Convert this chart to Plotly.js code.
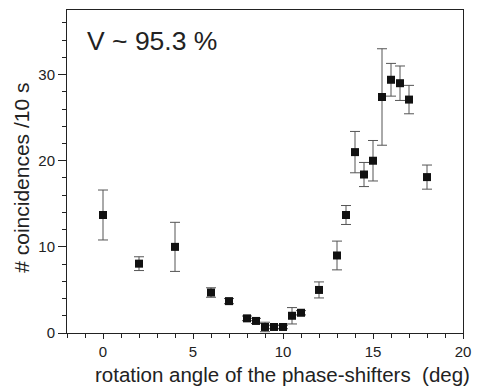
<!DOCTYPE html>
<html>
<head>
<meta charset="utf-8">
<script src="https://cdn.plot.ly/plotly-3.0.1.min.js"></script>
<style>html,body{margin:0;padding:0;background:#fff;}#plot{width:479px;height:387px;}</style>
</head>
<body>
<div id="plot"></div>
<script>
const angle = [0, 2, 4, 6, 7, 8, 8.5, 9, 9.5, 10, 10.5, 11, 12, 13, 13.5, 14, 14.5, 15, 15.5, 16, 16.5, 17, 18];
const counts = [13.7, 8.05, 10.0, 4.7, 3.7, 1.7, 1.4, 0.7, 0.7, 0.7, 2.0, 2.35, 5.0, 9.0, 13.7, 21.0, 18.4, 20.0, 27.4, 29.4, 29.0, 27.1, 18.1];
const errs = [2.9, 0.8, 2.85, 0.55, 0.3, 0.27, 0.3, 0.55, 0.2, 0.2, 0.95, 0.25, 0.93, 1.67, 1.1, 2.4, 1.4, 2.35, 5.6, 1.9, 2.0, 1.65, 1.4];
const xTicks = [0, 5, 10, 15, 20];
const yTicks = [0, 10, 20, 30];
const visibilityText = 'V ~ 95.3 %';
const xTitle = 'rotation angle of the phase-shifters  (deg)';
const yTitle = '# coincidences /10 s';

const trace = {
  x: angle, y: counts, type: 'scatter', mode: 'markers',
  marker: {symbol: 'square', size: 8, color: '#111'},
  error_y: {type: 'data', array: errs, visible: true, color: '#555', thickness: 1, width: 5},
  cliponaxis: false
};

const fam = 'Liberation Sans, Arial, sans-serif';
const layout = {
  width: 479, height: 387,
  margin: {l: 67, r: 16, t: 10, b: 54},
  paper_bgcolor: '#fff', plot_bgcolor: '#fff',
  showlegend: false,
  font: {family: fam, color: '#222'},
  xaxis: {
    range: [-2, 20], tickvals: xTicks, ticktext: xTicks.map(String),
    ticks: 'outside', ticklen: 5, tickwidth: 1, tickcolor: '#222',
    minor: {dtick: 1, tick0: 0, ticks: 'outside', ticklen: 4, tickcolor: '#222'},
    showline: true, linecolor: '#222', linewidth: 1, mirror: true,
    showgrid: false, zeroline: false,
    tickfont: {size: 15, family: fam, color: '#222'}
  },
  yaxis: {
    range: [0, 37.5], tickvals: yTicks, ticktext: yTicks.map(String),
    ticks: 'outside', ticklen: 8, tickwidth: 1, tickcolor: '#222',
    minor: {dtick: 2, tick0: 0, ticks: 'outside', ticklen: 4, tickcolor: '#222'},
    showline: true, linecolor: '#222', linewidth: 1, mirror: true,
    showgrid: false, zeroline: false,
    tickfont: {size: 15, family: fam, color: '#222'}
  },
  annotations: [{
    text: visibilityText, xref: 'paper', yref: 'paper', x: 0.046, y: 0.905,
    xanchor: 'left', yanchor: 'middle', showarrow: false,
    font: {size: 26.5, family: fam, color: '#222'}
  }, {
    text: xTitle, xref: 'paper', yref: 'paper', x: 0.545, y: -0.127,
    xanchor: 'center', yanchor: 'middle', showarrow: false,
    font: {size: 20.5, family: fam, color: '#222'}
  }, {
    text: yTitle, xref: 'paper', yref: 'paper', x: -0.114, y: 0.48,
    xanchor: 'center', yanchor: 'middle', showarrow: false, textangle: -90,
    font: {size: 21, family: fam, color: '#222'}
  }]
};

Plotly.newPlot('plot', [trace], layout, {displayModeBar: false, staticPlot: true});
</script>
</body>
</html>
